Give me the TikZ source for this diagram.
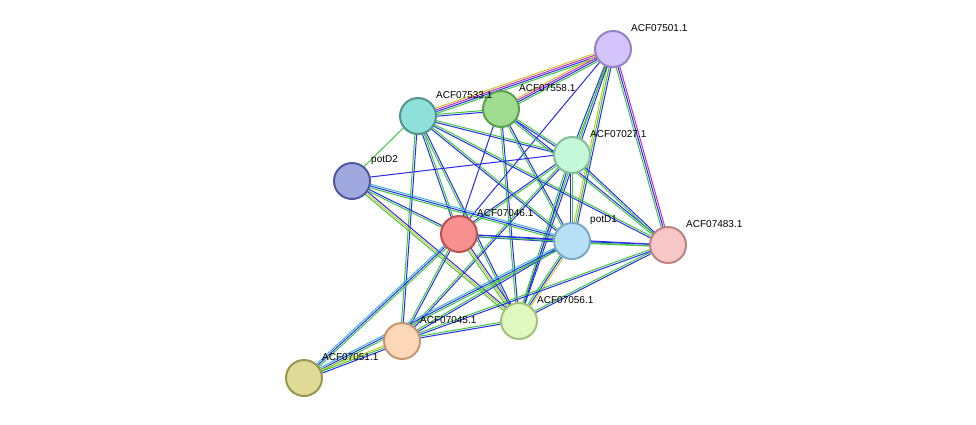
\documentclass[tikz,border=0pt]{standalone}
\usepackage{fontspec}
\setmainfont{Liberation Sans}
\usetikzlibrary{calc}
\pgfdeclarelayer{bg}\pgfsetlayers{bg,main}
\definecolor{eg}{RGB}{60,200,60}
\definecolor{eb}{RGB}{40,40,240}
\definecolor{ey}{RGB}{200,200,40}
\definecolor{em}{RGB}{200,40,200}
\definecolor{ec}{RGB}{60,180,220}
\newcommand{\sedge}[3]{\foreach \cc [count=\ii] in {#3}{\draw[\cc,line width=1pt] ($(#1)!{(\ii-2)*1.8pt}!90:(#2)$) -- ($(#2)!{(\ii-2)*1.8pt}!-90:(#1)$);}}
\begin{document}
\begin{tikzpicture}[x=1pt,y=-1pt,
  prot/.style={circle,minimum size=36pt,inner sep=0pt,line width=2pt},
  lab/.style={anchor=west,font=\fontsize{10}{12}\selectfont,inner sep=0pt}]
\useasboundingbox (0,0) rectangle (976,424);
\node[prot,fill={rgb,255:red,212;green,196;blue,252},draw={rgb,255:red,150;green,130;blue,200}] (a501) at (613,49) {};
\node[prot,fill={rgb,255:red,143;green,224;blue,216},draw={rgb,255:red,80;green,150;blue,140}] (a533) at (418,116) {};
\node[prot,fill={rgb,255:red,160;green,220;blue,144},draw={rgb,255:red,90;green,160;blue,80}] (a558) at (501,109) {};
\node[prot,fill={rgb,255:red,196;green,248;blue,216},draw={rgb,255:red,130;green,190;blue,150}] (a027) at (572,155) {};
\node[prot,fill={rgb,255:red,160;green,168;blue,224},draw={rgb,255:red,80;green,90;blue,160}] (d2) at (352,181) {};
\node[prot,fill={rgb,255:red,248;green,144;blue,144},draw={rgb,255:red,190;green,80;blue,80}] (a046) at (459,234) {};
\node[prot,fill={rgb,255:red,184;green,224;blue,248},draw={rgb,255:red,120;green,170;blue,200}] (d1) at (572,241) {};
\node[prot,fill={rgb,255:red,248;green,200;blue,200},draw={rgb,255:red,190;green,130;blue,130}] (a483) at (668,245) {};
\node[prot,fill={rgb,255:red,224;green,248;blue,192},draw={rgb,255:red,160;green,195;blue,120}] (a056) at (519,321) {};
\node[prot,fill={rgb,255:red,252;green,216;blue,184},draw={rgb,255:red,200;green,150;blue,110}] (a045) at (402,341) {};
\node[prot,fill={rgb,255:red,224;green,220;blue,152},draw={rgb,255:red,150;green,150;blue,80}] (a051) at (304,378) {};
\begin{pgfonlayer}{bg}
\sedge{a501}{a533}{ey,em,eb,eg}
\sedge{a501}{a558}{ey,em,eb,eg}
\sedge{a501}{a027}{eb,eg}
\sedge{a501}{d1}{ey,eg,eb}
\sedge{a501}{a483}{eg,eb,em}
\sedge{a501}{a056}{eg,eb}
\sedge{a501}{a046}{eb}
\sedge{a533}{a558}{eb,eg}
\sedge{a533}{a027}{eb,eg}
\sedge{a533}{d2}{eg}
\sedge{a533}{a046}{eb,eg}
\sedge{a533}{d1}{eb,eg}
\sedge{a533}{a056}{eg,eb}
\sedge{a533}{a045}{eg,eb}
\sedge{a533}{a483}{eb,eg}
\sedge{a558}{a027}{eb,eg}
\sedge{a558}{a046}{eb}
\sedge{a558}{d1}{eg,eb}
\sedge{a558}{a056}{eg,eb}
\sedge{a558}{a483}{eg,eb}
\sedge{a027}{d2}{eb}
\sedge{a027}{a046}{eb,eg}
\sedge{a027}{d1}{eb,eg}
\sedge{a027}{a483}{eg,eb}
\sedge{a027}{a056}{eg,eb}
\sedge{a027}{a045}{eg,eb}
\sedge{d2}{a046}{eg,eb}
\sedge{d2}{d1}{eg,eb,ec}
\sedge{d2}{a056}{eg,ey,eb}
\sedge{a046}{d1}{eb,eb}
\sedge{a046}{a056}{eg,ey,eb}
\sedge{a046}{a045}{eg,eb}
\sedge{a046}{a051}{ec,eb,eg}
\sedge{a046}{a483}{eg,eb}
\sedge{d1}{a483}{eg,eb}
\sedge{d1}{a056}{eg,eb,ey}
\sedge{d1}{a045}{eg,eb}
\sedge{d1}{a051}{ec,eb,eg}
\sedge{a483}{a056}{eg,eb}
\sedge{a483}{a045}{eg,eb}
\sedge{a056}{a045}{eg,eb}
\sedge{a045}{a051}{ey,eg,eb}
\end{pgfonlayer}
\node[lab] (l501) at (631,28) {ACF07501.1};
\node[lab] (l533) at (436,95) {ACF07533.1};
\node[lab] (l558) at (519,88) {ACF07558.1};
\node[lab] (l027) at (590,134) {ACF07027.1};
\node[lab] (ld2) at (371,160) {potD2};
\node[lab] (l046) at (477,213) {ACF07046.1};
\node[lab] (ld1) at (590,220) {potD1};
\node[lab] (l483) at (686,224) {ACF07483.1};
\node[lab] (l056) at (537,300) {ACF07056.1};
\node[lab] (l045) at (420,320) {ACF07045.1};
\node[lab] (l051) at (322,357) {ACF07051.1};
\end{tikzpicture}
\end{document}
